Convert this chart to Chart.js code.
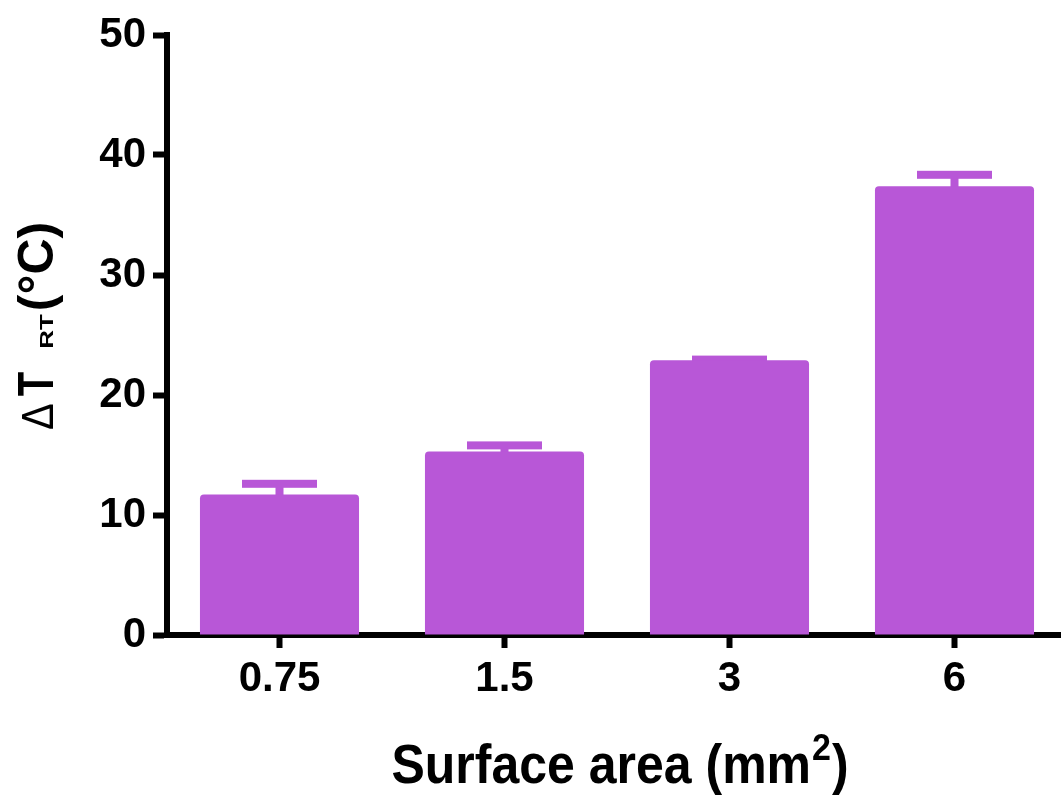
<!DOCTYPE html>
<html>
<head>
<meta charset="utf-8">
<script src="https://cdn.jsdelivr.net/npm/chart.js@4.4.0/dist/chart.umd.min.js"></script>
<style>
  html, body { margin: 0; padding: 0; background: #fff; overflow: hidden; }
  #wrap { width: 1061px; height: 797px; overflow: hidden; }
</style>
</head>
<body>
<div id="wrap"><canvas id="chart" width="1075" height="797"></canvas></div>
<script>
// surface area categories (mm^2)
const categories = ['0.75', '1.5', '3', '6'];
// mean delta T_RT (°C)
const meanValues = [11.7, 15.3, 22.9, 37.4];
// upper error (SEM)
const errorValues = [0.9, 0.5, 0.05, 0.95];
const yTicks = [0, 10, 20, 30, 40, 50];

const barColor = '#b857d7';
const FONT = '"Liberation Sans", Arial, sans-serif';

// error bars drawn behind the bars, like Prism does
const errorBarPlugin = {
    id: 'errorBars',
    beforeDatasetsDraw(chart) {
        const ctx = chart.ctx;
        const yScale = chart.scales.y;
        const meta = chart.getDatasetMeta(0);
        ctx.save();
        ctx.fillStyle = barColor;
        meta.data.forEach(function (bar, i) {
            const yMean = yScale.getPixelForValue(meanValues[i]);
            const yTop = yScale.getPixelForValue(meanValues[i] + errorValues[i]);
            ctx.fillRect(bar.x - 4, yTop, 8, yMean - yTop + 2);
            ctx.fillRect(bar.x - 37.5, yTop - 4, 75, 8);
        });
        ctx.restore();
    }
};

// axis titles with sub/superscripts
const axisTitlePlugin = {
    id: 'axisTitles',
    afterDraw(chart) {
        const ctx = chart.ctx;
        const area = chart.chartArea;
        ctx.save();
        ctx.fillStyle = '#000';
        ctx.textBaseline = 'alphabetic';
        ctx.textAlign = 'left';

        // x title: Surface area (mm²)
        const mainX = 'bold 50px ' + FONT;
        const supX = 'bold 34px ' + FONT;
        ctx.font = mainX;
        const w1 = ctx.measureText('Surface area (mm').width;
        const w3 = ctx.measureText(')').width;
        ctx.font = supX;
        const w2 = ctx.measureText('2').width + 2;
        let x = (area.left + area.right) / 2 - (w1 + w2 + w3) / 2 + 3;
        ctx.save();
        ctx.translate(0, 783);
        ctx.scale(1, 1.1);
        ctx.font = mainX;
        ctx.fillText('Surface area (mm', x, 0);
        ctx.font = supX;
        ctx.fillText('2', x + w1 + 1, -21);
        ctx.font = mainX;
        ctx.fillText(')', x + w1 + w2, 0);
        ctx.restore();

        // y title: Δ T_RT(°C), rotated
        const parts = [
            { text: '\u0394', font: '40px ' + FONT, gap: 0, sy: 1.1 },
            { text: 'T', font: 'bold 40px ' + FONT, gap: 7, sy: 1.25 },
            { text: 'RT', font: 'bold 26px ' + FONT, gap: 23, sy: 0.7 },
            { text: '(\u00B0C)', font: 'bold 50px ' + FONT, gap: 3, sy: 1.0 }
        ];
        parts.forEach(function (p) {
            ctx.font = p.font;
            p.w = ctx.measureText(p.text).width;
        });
        ctx.translate(53, 430);
        ctx.rotate(-Math.PI / 2);
        let pos = 0;
        parts.forEach(function (p) {
            pos += p.gap;
            ctx.save();
            ctx.scale(1, p.sy);
            ctx.font = p.font;
            ctx.fillText(p.text, pos, 0);
            ctx.restore();
            pos += p.w;
        });
        ctx.restore();
    }
};

new Chart(document.getElementById('chart'), {
    type: 'bar',
    data: {
        labels: categories,
        datasets: [{
            data: meanValues,
            backgroundColor: barColor,
            borderWidth: 0,
            borderRadius: { topLeft: 4, topRight: 4, bottomLeft: 0, bottomRight: 0 },
            borderSkipped: 'bottom',
            barPercentage: 0.707,
            categoryPercentage: 1.0
        }]
    },
    options: {
        responsive: false,
        animation: false,
        devicePixelRatio: 1,
        layout: { padding: { top: 35, right: 8, left: 0, bottom: 0 } },
        plugins: {
            legend: { display: false },
            tooltip: { enabled: false }
        },
        scales: {
            x: {
                z: 1,
                offset: true,
                border: { display: true, color: '#000', width: 6 },
                grid: {
                    offset: false,
                    drawOnChartArea: false,
                    drawTicks: true,
                    tickLength: 13,
                    tickWidth: 6,
                    tickColor: '#000'
                },
                ticks: {
                    color: '#000',
                    padding: 6,
                    font: { family: FONT, size: 42, weight: 'bold' }
                },
                afterFit(scale) { scale.height = 162; }
            },
            y: {
                z: 1,
                min: 0,
                max: 50,
                afterBuildTicks(scale) {
                    scale.ticks = yTicks.map(function (v) { return { value: v }; });
                },
                border: { display: true, color: '#000', width: 6 },
                grid: {
                    drawOnChartArea: false,
                    drawTicks: true,
                    tickLength: 14,
                    tickWidth: 6,
                    tickColor: '#000'
                },
                ticks: {
                    color: '#000',
                    padding: 7,
                    font: { family: FONT, size: 42, weight: 'bold' }
                },
                afterFit(scale) { scale.width = 167; }
            }
        }
    },
    plugins: [errorBarPlugin, axisTitlePlugin]
});
</script>
</body>
</html>
